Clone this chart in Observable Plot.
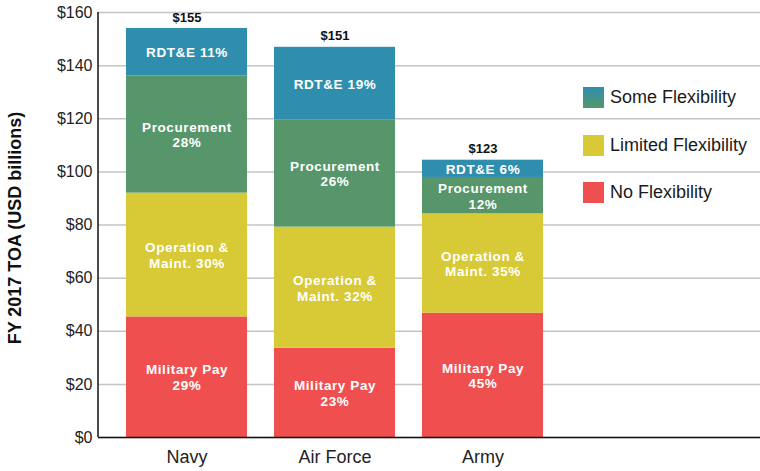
<!DOCTYPE html>
<html>
<head>
<meta charset="utf-8">
<script src="https://cdn.jsdelivr.net/npm/d3@7"></script>
<script src="https://cdn.jsdelivr.net/npm/@observablehq/plot@0.6"></script>
<style>
  html, body { margin: 0; padding: 0; background: #fff; }
  #wrap { position: relative; width: 760px; height: 471px; font-family: "Helvetica Neue", Helvetica, Arial, "Liberation Sans", sans-serif; }
  #wrap svg g[fill="white"] text { letter-spacing: 0.6px; }
  #legend { position: absolute; left: 583px; top: 87px; }
  .lrow { display: flex; align-items: center; height: 21px; margin-bottom: 26.5px; }
  .sw { width: 21px; height: 21px; margin-right: 6px; }
  .lt { font-size: 18px; color: #1a1a1a; white-space: nowrap; }
  #ytitle { position: absolute; left: 15px; top: 228px; transform: translate(-50%, -50%) rotate(-90deg);
            font-size: 18px; font-weight: bold; color: #111; white-space: nowrap; }
</style>
</head>
<body>
<div id="wrap"></div>
<script>
// ---- data ----
const services = ["Navy", "Air Force", "Army"];
const categories = ["Military Pay", "Operation & Maint.", "Procurement", "RDT&E"];
const militaryPay = [45.4, 33.6, 46.8];
const operationMaint = [46.6, 45.6, 37.4];
const procurement = [44.1, 40.4, 13.7];
const rdte = [17.9, 27.3, 6.5];
const militaryPayLabels = ["Military Pay\n29%", "Military Pay\n23%", "Military Pay\n45%"];
const operationMaintLabels = ["Operation &\nMaint. 30%", "Operation &\nMaint. 32%", "Operation &\nMaint. 35%"];
const procurementLabels = ["Procurement\n28%", "Procurement\n26%", "Procurement\n12%"];
const rdteLabels = ["RDT&E 11%", "RDT&E 19%", "RDT&E 6%"];
const totalLabels = ["$155", "$151", "$123"];
const categoryColors = ["#EF504F", "#D8C936", "#56966A", "#2F8EAE"];
const legendLabels = ["Some Flexibility", "Limited Flexibility", "No Flexibility"];
const legendFills = ["linear-gradient(#2F8EAE, #56966A)", "#D8C936", "#EF504F"];
const yTicks = [0, 20, 40, 60, 80, 100, 120, 140, 160];
const yTitle = "FY 2017 TOA (USD billions)";

// ---- table ----
const seriesValues = [militaryPay, operationMaint, procurement, rdte];
const seriesLabels = [militaryPayLabels, operationMaintLabels, procurementLabels, rdteLabels];
const rows = [];
categories.forEach((c, ci) => services.forEach((s, si) => rows.push({
  service: s, category: c, value: seriesValues[ci][si], label: seriesLabels[ci][si]
})));
const totals = services.map((s, si) => ({
  service: s, value: d3.sum(seriesValues, v => v[si]), label: totalLabels[si]
}));

const font = '"Helvetica Neue", Helvetica, Arial, "Liberation Sans", sans-serif';

const chart = Plot.plot({
  width: 760,
  height: 471,
  marginLeft: 98,
  marginRight: 0,
  marginTop: 12,
  marginBottom: 34,
  style: { fontFamily: font, background: "white", color: "#222" },
  x: { domain: services, range: [98, 571], padding: 0.18, label: null },
  y: { domain: [0, 160], label: null },
  color: { domain: categories, range: categoryColors },
  marks: [
    Plot.ruleY(yTicks, { stroke: "#c4c4c4", strokeWidth: 1.5 }),
    Plot.barY(rows, { x: "service", y: "value", fill: "category" }),
    Plot.text(rows, Plot.stackY({
      x: "service", y: "value", text: "label", fill: "white",
      fontWeight: "bold", fontSize: 13.5, lineHeight: 1.17
    })),
    Plot.text(totals, {
      x: "service", y: "value", text: "label", dy: -11,
      fontWeight: "bold", fontSize: 13, fill: "#111"
    }),
    Plot.ruleY([0], { stroke: "#111", strokeWidth: 1.5 }),
    (index, scales, values, dims) => {
      const line = d3.create("svg:line")
        .attr("x1", dims.marginLeft).attr("x2", dims.marginLeft)
        .attr("y1", scales.y(yTicks[0])).attr("y2", scales.y(yTicks[yTicks.length - 1]))
        .attr("stroke", "#111").attr("stroke-width", 1.5);
      return line.node();
    },
    Plot.axisY({
      ticks: yTicks, tickSize: 0, tickPadding: 6, fontSize: 16,
      tickFormat: d => "$" + d, label: null
    }),
    Plot.axisX({ tickSize: 0, tickPadding: 13, fontSize: 18, label: null })
  ]
});

const wrap = document.getElementById("wrap");
wrap.appendChild(chart);

const title = document.createElement("div");
title.id = "ytitle";
title.textContent = yTitle;
wrap.appendChild(title);

const legend = document.createElement("div");
legend.id = "legend";
legendLabels.forEach((t, i) => {
  const row = document.createElement("div");
  row.className = "lrow";
  const sw = document.createElement("div");
  sw.className = "sw";
  sw.style.background = legendFills[i];
  const lt = document.createElement("span");
  lt.className = "lt";
  lt.textContent = t;
  row.appendChild(sw);
  row.appendChild(lt);
  legend.appendChild(row);
});
wrap.appendChild(legend);
</script>
</body>
</html>
